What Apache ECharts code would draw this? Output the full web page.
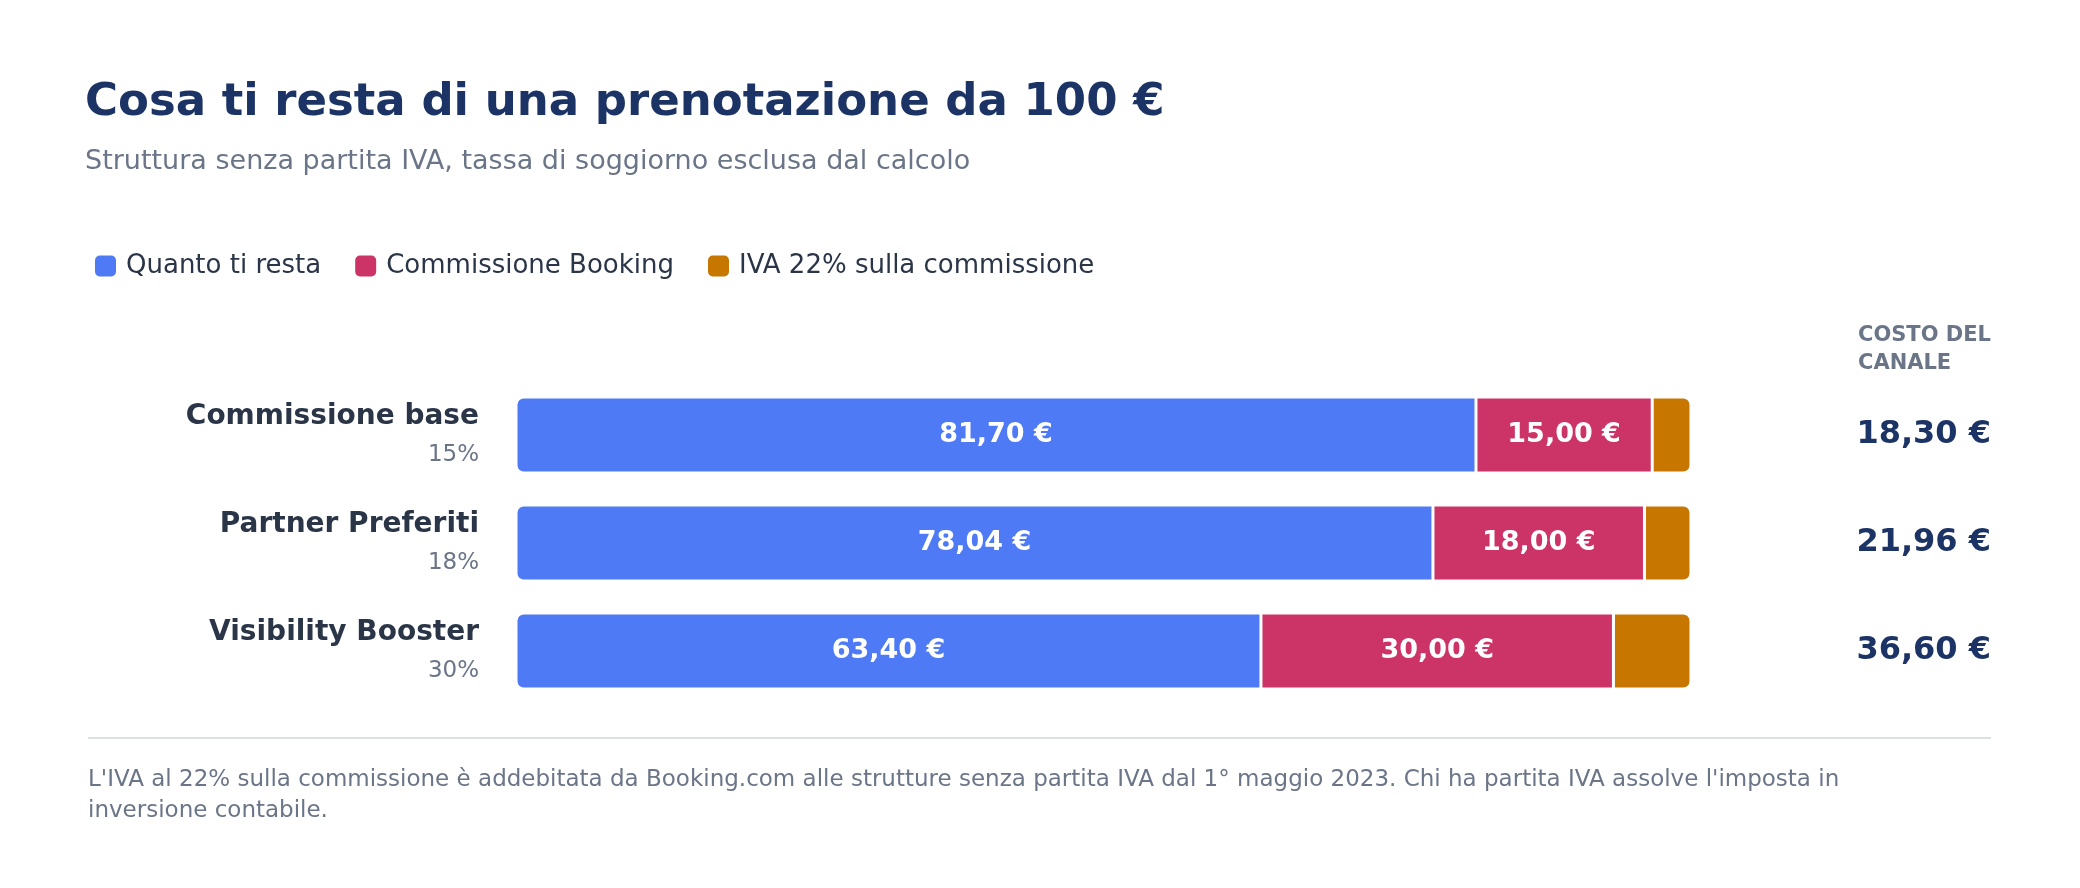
<!DOCTYPE html>
<html>
<head>
<meta charset="utf-8">
<script src="https://cdn.jsdelivr.net/npm/echarts@6/dist/echarts.min.js"></script>
<style>
  html, body { margin: 0; padding: 0; background: #fff; }
  #chart { width: 2080px; height: 888px; }
</style>
</head>
<body>
<div id="chart"></div>
<script>
// dati
var categories = ['Commissione base', 'Partner Preferiti', 'Visibility Booster'];
var rates = ['15%', '18%', '30%'];
var netto = [81.70, 78.04, 63.40];
var commissione = [15.00, 18.00, 30.00];
var iva = [3.30, 3.96, 6.60];
var costi = [18.30, 21.96, 36.60];

var FONT = 'DejaVu Sans';

function euro(v) {
  return v.toFixed(2).replace('.', ',') + ' €';
}

var myChart = echarts.init(document.getElementById('chart'));

var segLabel = {
  show: true,
  position: 'inside',
  color: '#fff',
  fontFamily: FONT,
  fontWeight: 'bold',
  fontSize: 27,
  formatter: function (p) { return euro(p.value); }
};

myChart.setOption({
  animation: false,
  textStyle: { fontFamily: FONT },
  title: {
    text: 'Cosa ti resta di una prenotazione da 100 €',
    subtext: 'Struttura senza partita IVA, tassa di soggiorno esclusa dal calcolo',
    left: 80,
    top: 76,
    itemGap: 22,
    textStyle: { color: '#1c3366', fontSize: 45, fontWeight: 'bold', fontFamily: FONT },
    subtextStyle: { color: '#6b7588', fontSize: 27, fontFamily: FONT }
  },
  legend: {
    left: 88,
    top: 248,
    icon: 'roundRect',
    itemWidth: 23,
    itemHeight: 23,
    itemGap: 32,
    textStyle: { color: '#2b3548', fontSize: 26, fontFamily: FONT, padding: [0, 0, 0, 4] },
    data: ['Quanto ti resta', 'Commissione Booking', 'IVA 22% sulla commissione']
  },
  grid: { left: 516, right: 389, top: 381, height: 324 },
  xAxis: { type: 'value', min: 0, max: 100, show: false },
  yAxis: [{
    type: 'category',
    inverse: true,
    data: categories,
    axisLine: { show: false },
    axisTick: { show: false },
    axisLabel: {
      margin: 37,
      align: 'right',
      formatter: function (v, i) { return '{n|' + v + '}\n{p|' + rates[i] + '}'; },
      rich: {
        n: { fontFamily: FONT, fontWeight: 'bold', fontSize: 28, color: '#2b3548', lineHeight: 40, align: 'right' },
        p: { fontFamily: FONT, fontSize: 23, color: '#6b7588', lineHeight: 36, align: 'right' }
      }
    }
  }, {
    type: 'category',
    inverse: true,
    position: 'right',
    data: categories,
    axisLine: { show: false },
    axisTick: { show: false },
    axisLabel: {
      margin: 300,
      align: 'right',
      fontFamily: FONT,
      fontWeight: 'bold',
      fontSize: 32,
      color: '#1c3366',
      formatter: function (v, i) { return euro(costi[i]); }
    }
  }],
  series: [{
    name: 'Quanto ti resta',
    type: 'bar',
    stack: 'tot',
    barWidth: 76,
    data: netto,
    itemStyle: { color: '#4f7af5', borderRadius: [7, 0, 0, 7], borderColor: '#fff', borderWidth: 1.5 },
    label: segLabel
  }, {
    name: 'Commissione Booking',
    type: 'bar',
    stack: 'tot',
    data: commissione,
    itemStyle: { color: '#cc3366', borderColor: '#fff', borderWidth: 1.5 },
    label: segLabel
  }, {
    name: 'IVA 22% sulla commissione',
    type: 'bar',
    stack: 'tot',
    data: iva,
    itemStyle: { color: '#c77700', borderRadius: [0, 7, 7, 0], borderColor: '#fff', borderWidth: 1.5 },
    label: { show: false }
  }],
  graphic: [{
    type: 'text',
    right: 89,
    top: 322,
    style: {
      text: 'COSTO DEL\nCANALE',
      align: 'right',
      fill: '#6b7588',
      fontFamily: FONT,
      fontWeight: 'bold',
      fontSize: 21,
      lineHeight: 28,
      letterSpacing: 2
    }
  }, {
    type: 'line',
    shape: { x1: 88, y1: 738, x2: 1991, y2: 738 },
    style: { stroke: '#dcdfe4', lineWidth: 2 }
  }, {
    type: 'text',
    left: 88,
    top: 765,
    style: {
      text: "L'IVA al 22% sulla commissione è addebitata da Booking.com alle strutture senza partita IVA dal 1° maggio 2023. Chi ha partita IVA assolve l'imposta in\ninversione contabile.",
      fill: '#6b7588',
      fontFamily: FONT,
      fontSize: 23,
      lineHeight: 31
    }
  }]
});
</script>
</body>
</html>
